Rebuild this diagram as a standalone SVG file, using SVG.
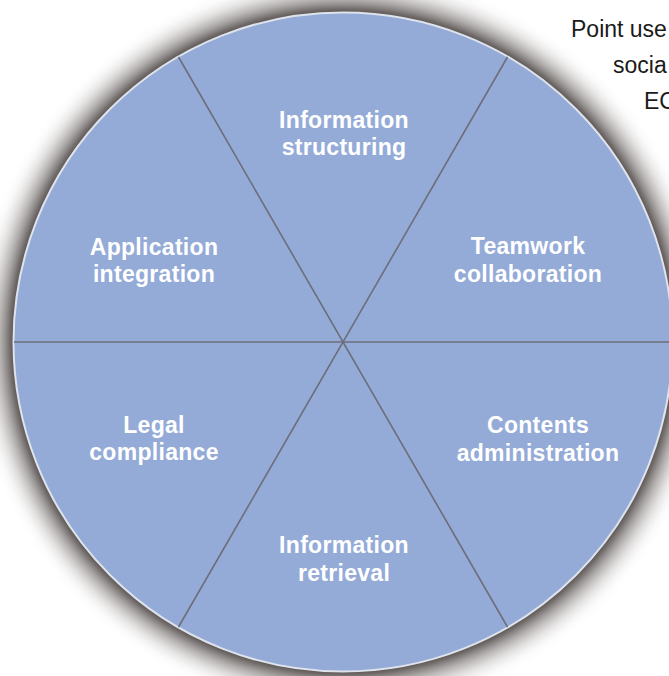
<svg xmlns="http://www.w3.org/2000/svg" width="669" height="676" viewBox="0 0 669 676">
<defs>
<radialGradient id="shadow" gradientUnits="userSpaceOnUse" cx="343" cy="342" r="372">
<stop offset="0.882" stop-color="#4a4442" stop-opacity="0.95"/>
<stop offset="0.895" stop-color="#57514f" stop-opacity="0.85"/>
<stop offset="0.92" stop-color="#7d7876" stop-opacity="0.6"/>
<stop offset="0.95" stop-color="#a9a5a3" stop-opacity="0.3"/>
<stop offset="0.975" stop-color="#d0cdcc" stop-opacity="0.1"/>
<stop offset="1" stop-color="#ffffff" stop-opacity="0"/>
</radialGradient>
<style>
.lbl{font-family:"Liberation Sans",Arial,sans-serif;font-weight:bold;font-size:23px;fill:#ffffff;text-anchor:middle;letter-spacing:0.3px}
.note{font-family:"Liberation Sans",Arial,sans-serif;font-size:23px;fill:#1a1a1a}
.div{stroke:#6c6e78;stroke-width:1.6;fill:none}
</style>
</defs>
<rect x="0" y="0" width="669" height="676" fill="#ffffff"/>
<circle cx="343" cy="342" r="372" fill="url(#shadow)"/>
<g id="wheel">
<circle cx="343" cy="342" r="329.5" fill="#94abd8" stroke="#dfe3ec" stroke-width="2"/>
</g>
<g id="connectors">
<line class="div" x1="14" y1="342" x2="669" y2="342"/>
<line class="div" x1="178.5" y1="57" x2="507.5" y2="627"/>
<line class="div" x1="507.5" y1="57" x2="178.5" y2="627"/>
</g>
<g id="n-structuring">
<text class="lbl" x="344" y="128">Information</text>
<text class="lbl" x="344" y="155">structuring</text>
</g>
<g id="n-application">
<text class="lbl" x="154" y="255">Application</text>
<text class="lbl" x="154" y="282">integration</text>
</g>
<g id="n-teamwork">
<text class="lbl" x="528" y="254">Teamwork</text>
<text class="lbl" x="528" y="282">collaboration</text>
</g>
<g id="n-legal">
<text class="lbl" x="154" y="433">Legal</text>
<text class="lbl" x="154" y="460">compliance</text>
</g>
<g id="n-contents">
<text class="lbl" x="538" y="433">Contents</text>
<text class="lbl" x="538" y="461">administration</text>
</g>
<g id="n-retrieval">
<text class="lbl" x="344" y="553">Information</text>
<text class="lbl" x="344" y="581">retrieval</text>
</g>
<g id="note">
<text class="note" x="571" y="37">Point use</text>
<text class="note" x="613" y="73">socia</text>
<text class="note" x="644" y="109">EC</text>
</g>
</svg>
